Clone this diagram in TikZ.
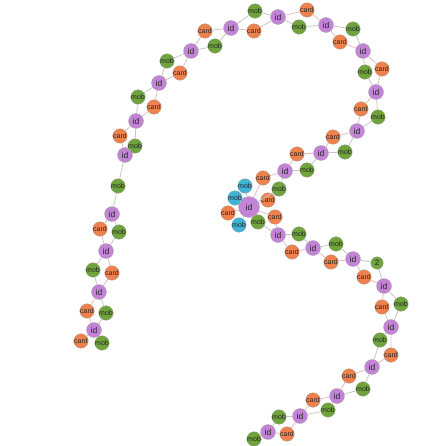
\documentclass[tikz,border=0pt]{standalone}
\usepackage{fontspec}
\setmainfont{Liberation Sans}
\usepackage{tikz}

\definecolor{idcol}{HTML}{C383D7}
\definecolor{cardcol}{HTML}{F0814D}
\definecolor{mobcol}{HTML}{6FA43C}
\definecolor{bluecol}{HTML}{3EB4D6}
\definecolor{clinkcol}{HTML}{E3BDBD}
\definecolor{mlinkcol}{HTML}{C6C8C0}

\begin{document}
\begin{tikzpicture} [x = 1pt, y = -1pt,
  every node/.style = {circle, draw = gray!70, line width = .3pt, inner sep = 0pt, text = black!85},
  idnode/.style = {fill = idcol, minimum size = 15pt, font = \fontsize{8.5}{8.5}\selectfont},
  hubnode/.style = {idnode, minimum size = 21pt},
  cardnode/.style = {fill = cardcol, minimum size = 12.5pt, font = \fontsize{7}{7}\selectfont},
  mobnode/.style = {fill = mobcol, minimum size = 12.5pt, font = \fontsize{7}{7}\selectfont},
  bluenode/.style = {mobnode, fill = bluecol},
  clink/.style = {draw = clinkcol, line width = .8pt},
  mlink/.style = {draw = mlinkcol, line width = .8pt}]
\useasboundingbox (0,0) rectangle (440,446);
% ids along the chain
\node[idnode](i1) at (94,330) {id};
\node[idnode](i2) at (99,292) {id};
\node[idnode](i3) at (106,251) {id};
\node[idnode](i4) at (112,214) {id};
\node[idnode](i5) at (125,155) {id};
\node[idnode](i6) at (136,121) {id};
\node[idnode](i7) at (159,83) {id};
\node[idnode](i8) at (191,51) {id};
\node[idnode](i9) at (231,28) {id};
\node[idnode](i10) at (278,17) {id};
\node[idnode](i11) at (326,25) {id};
\node[idnode](i12) at (363,51) {id};
\node[idnode](i13) at (376,92) {id};
\node[idnode](i14) at (357,131) {id};
\node[idnode](i15) at (321,153) {id};
\node[idnode](i16) at (285,171) {id};
\node[hubnode](i17) at (249,207) {id};
\node[idnode](i18) at (278,235) {id};
\node[idnode](i19) at (313,248) {id};
\node[idnode](i20) at (353,259) {id};
\node[idnode](i21) at (384,286) {id};
\node[idnode](i22) at (391,327) {id};
\node[idnode](i23) at (372,367) {id};
\node[idnode](i24) at (337,396) {id};
\node[idnode](i25) at (300,416) {id};
\node[idnode](i26) at (268,432) {id};
% cards
\node[cardnode](c0) at (81,341) {card};
\node[cardnode](c1) at (87,311) {card};
\node[cardnode](c2) at (112,273) {card};
\node[cardnode](c3) at (100,229) {card};
\node[cardnode](c5) at (120,136) {card};
\node[cardnode](c6) at (154,107) {card};
\node[cardnode](c7) at (180,73) {card};
\node[cardnode](c8) at (205,31) {card};
\node[cardnode](c9) at (254,31) {card};
\node[cardnode](c10) at (307,10) {card};
\node[cardnode](c11) at (340,42) {card};
\node[cardnode](c12) at (382,69) {card};
\node[cardnode](c13) at (361,109) {card};
\node[cardnode](c14) at (333,137) {card};
\node[cardnode](c15) at (297,154) {card};
\node[cardnode](c16) at (263,178) {card};
\node[cardnode](c17) at (275,217) {card};
\node[cardnode](c18) at (292,252) {card};
\node[cardnode](c19) at (331,262) {card};
\node[cardnode](c20) at (364,277) {card};
\node[cardnode](c21) at (382,307) {card};
\node[cardnode](c22) at (391,355) {card};
\node[cardnode](c23) at (349,376) {card};
\node[cardnode](c24) at (313,400) {card};
\node[cardnode](c25) at (287,434) {card};
\node[cardnode](h1) at (228,213) {card};
\node[cardnode](h2) at (268,200) {card};
% mobs
\node[mobnode](m0) at (102,343) {mob};
\node[mobnode](m1) at (106,313) {mob};
\node[mobnode](m2) at (93,270) {mob};
\node[mobnode](m3) at (119,232) {mob};
\node[mobnode](m4) at (118,186) {mob};
\node[mobnode](m5) at (135,146) {mob};
\node[mobnode](m6) at (138,97) {mob};
\node[mobnode](m7) at (167,61) {mob};
\node[mobnode](m8) at (215,46) {mob};
\node[mobnode](m9) at (255,11) {mob};
\node[mobnode](m10) at (299,27) {mob};
\node[mobnode](m11) at (353,29) {mob};
\node[mobnode](m12) at (365,72) {mob};
\node[mobnode](m13) at (378,117) {mob};
\node[mobnode](m14) at (345,152) {mob};
\node[mobnode](m15) at (307,170) {mob};
\node[mobnode](m16) at (279,189) {mob};
\node[mobnode](m17) at (258,222) {mob};
\node[mobnode](m18) at (299,234) {mob};
\node[mobnode](m19) at (336,244) {mob};
\node[mobnode, font = \fontsize{8}{8}\selectfont](m20) at (377,263) {2};
\node[mobnode](m21) at (401,304) {mob};
\node[mobnode](m22) at (380,340) {mob};
\node[mobnode](m23) at (363,389) {mob};
\node[mobnode](m24) at (328,410) {mob};
\node[mobnode](m25) at (279,417) {mob};
\node[mobnode](m26) at (254,439) {mob};
\node[bluenode](b1) at (245,186) {mob};
\node[bluenode](b2) at (235,198) {mob};
\node[bluenode](b3) at (239,225) {mob};
% links
\draw[clink] (i1) -- (c0);
\draw[mlink] (i1) -- (m0);
\draw[clink] (i1) -- (c1) -- (i2);
\draw[mlink] (i1) -- (m1) -- (i2);
\draw[clink] (i2) -- (c2) -- (i3);
\draw[mlink] (i2) -- (m2) -- (i3);
\draw[clink] (i3) -- (c3) -- (i4);
\draw[mlink] (i3) -- (m3) -- (i4);
\draw[mlink] (i4) -- (m4) -- (i5);
\draw[clink] (i5) -- (c5) -- (i6);
\draw[mlink] (i5) -- (m5) -- (i6);
\draw[clink] (i6) -- (c6) -- (i7);
\draw[mlink] (i6) -- (m6) -- (i7);
\draw[clink] (i7) -- (c7) -- (i8);
\draw[mlink] (i7) -- (m7) -- (i8);
\draw[clink] (i8) -- (c8) -- (i9);
\draw[mlink] (i8) -- (m8) -- (i9);
\draw[clink] (i9) -- (c9) -- (i10);
\draw[mlink] (i9) -- (m9) -- (i10);
\draw[clink] (i10) -- (c10) -- (i11);
\draw[mlink] (i10) -- (m10) -- (i11);
\draw[clink] (i11) -- (c11) -- (i12);
\draw[mlink] (i11) -- (m11) -- (i12);
\draw[clink] (i12) -- (c12) -- (i13);
\draw[mlink] (i12) -- (m12) -- (i13);
\draw[clink] (i13) -- (c13) -- (i14);
\draw[mlink] (i13) -- (m13) -- (i14);
\draw[clink] (i14) -- (c14) -- (i15);
\draw[mlink] (i14) -- (m14) -- (i15);
\draw[clink] (i15) -- (c15) -- (i16);
\draw[mlink] (i15) -- (m15) -- (i16);
\draw[clink] (i16) -- (c16) -- (i17);
\draw[mlink] (i16) -- (m16) -- (i17);
\draw[clink] (i17) -- (h1);
\draw[clink] (i17) -- (h2);
\draw[mlink] (i17) -- (b1);
\draw[mlink] (i17) -- (b2);
\draw[mlink] (i17) -- (b3);
\draw[clink] (i17) -- (c17) -- (i18);
\draw[mlink] (i17) -- (m17) -- (i18);
\draw[clink] (i18) -- (c18) -- (i19);
\draw[mlink] (i18) -- (m18) -- (i19);
\draw[clink] (i19) -- (c19) -- (i20);
\draw[mlink] (i19) -- (m19) -- (i20);
\draw[clink] (i20) -- (c20) -- (i21);
\draw[mlink] (i20) -- (m20) -- (i21);
\draw[clink] (i21) -- (c21) -- (i22);
\draw[mlink] (i21) -- (m21) -- (i22);
\draw[clink] (i22) -- (c22) -- (i23);
\draw[mlink] (i22) -- (m22) -- (i23);
\draw[clink] (i23) -- (c23) -- (i24);
\draw[mlink] (i23) -- (m23) -- (i24);
\draw[clink] (i24) -- (c24) -- (i25);
\draw[mlink] (i24) -- (m24) -- (i25);
\draw[clink] (i25) -- (c25) -- (i26);
\draw[mlink] (i25) -- (m25) -- (i26);
\draw[mlink] (i26) -- (m26);
\end{tikzpicture}
\end{document}
